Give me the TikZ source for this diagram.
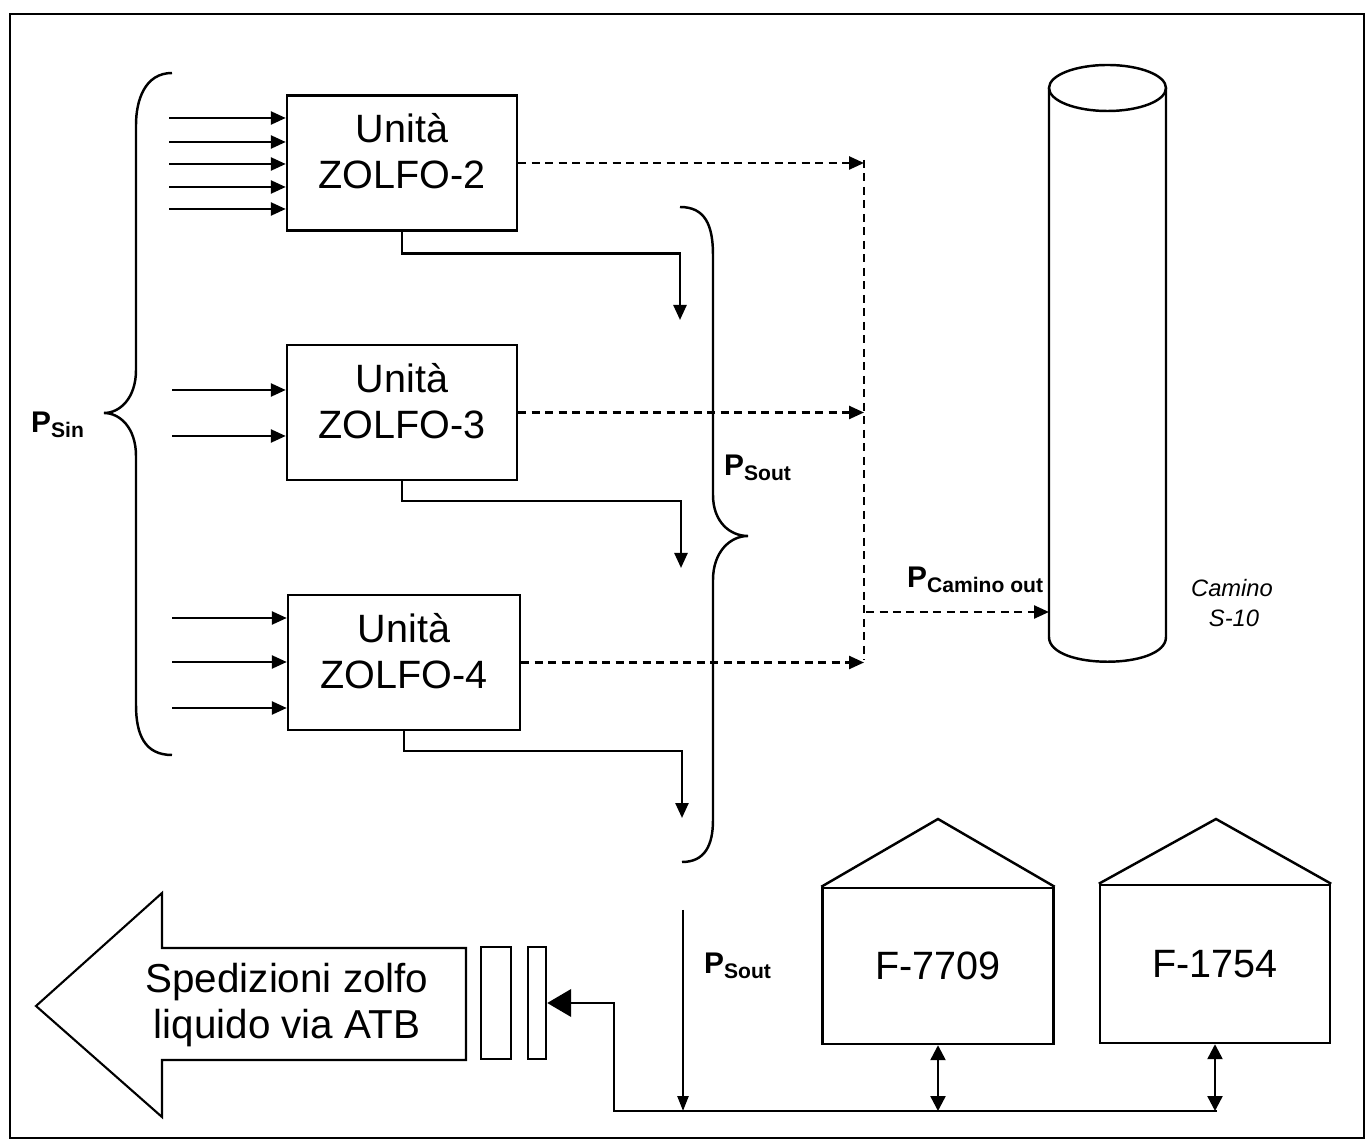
\documentclass[tikz,border=0pt]{standalone}
\usepackage{fontspec}
\setmainfont{Liberation Sans}
\usetikzlibrary{arrows.meta}
\newcommand{\plabel}[1]{{\fontsize{17}{17}\selectfont\bfseries P}\raisebox{-2.5pt}{\fontsize{12}{12}\selectfont\bfseries #1}}
\begin{document}
\begin{tikzpicture}[x=0.02cm,y=-0.02cm,line width=1.4pt,
  unitbox/.style={draw,minimum width=4.6cm,minimum height=2.7cm,inner sep=0pt},
  utext/.style={anchor=base,inner sep=0pt,font=\fontsize{22.5}{26}\selectfont},
  tankbox/.style={draw,minimum width=4.62cm,minimum height=3.12cm,
     font=\fontsize{22.5}{26}\selectfont,inner sep=0pt},
  slab/.style={draw,minimum height=2.24cm,inner sep=0pt},
  arr/.style={-{Triangle[length=0.3cm,width=0.26cm]}},
  darr/.style={dash pattern=on 0.16cm off 0.11cm,-{Triangle[length=0.3cm,width=0.26cm]}},
  dline/.style={dash pattern=on 0.16cm off 0.11cm},
  biarr/.style={{Triangle[length=0.3cm,width=0.3cm]}-{Triangle[length=0.3cm,width=0.3cm]}},
  bigarr/.style={-{Triangle[length=0.48cm,width=0.55cm]}},
  camtext/.style={anchor=base,inner sep=0pt,font=\fontsize{13.5}{16}\selectfont\itshape},
  lbl/.style={anchor=west,inner sep=0pt}]
\useasboundingbox (0,0) rectangle (1367,1141);
\draw (10,14) rectangle (1364,1138);

% units
\node[unitbox] (z2) at (402,163) {};
\node[utext] (z2a) at (402,143) {Unità};
\node[utext] (z2b) at (402,189) {ZOLFO-2};
\node[unitbox] (z3) at (402,412.5) {};
\node[utext] (z3a) at (402,393) {Unità};
\node[utext] (z3b) at (402,439) {ZOLFO-3};
\node[unitbox,minimum width=4.64cm] (z4) at (404,662.5) {};
\node[utext] (z4a) at (404,643) {Unità};
\node[utext] (z4b) at (404,689) {ZOLFO-4};

% input arrows
\foreach \y [count=\i] in {118,142,164,187,209} {
  \coordinate (a\i) at (169,\y);
  \draw[arr] (a\i) -- (a\i -| z2.west);
}
\foreach \y [count=\i] in {390,436} {
  \coordinate (b\i) at (172,\y);
  \draw[arr] (b\i) -- (b\i -| z3.west);
}
\foreach \y [count=\i] in {618,662,708} {
  \coordinate (c\i) at (172,\y);
  \draw[arr] (c\i) -- (c\i -| z4.west);
}

% left brace
\draw (172,73) .. controls (145,73) and (136,100) .. (136,125) -- (136,370)
  .. controls (136,398) and (120,413) .. (104,413)
  .. controls (120,413) and (136,428) .. (136,456) -- (136,705)
  .. controls (136,735) and (145,755) .. (172,755);
\node[lbl] (psin) at (30,425) {\plabel{Sin}};

% outputs to sulfur
\coordinate (o2) at (680,320);
\coordinate (o3) at (681,568);
\coordinate (o4) at (682,818);
\draw[arr] (z2.south) -- ++(0,22) -| (o2);
\draw[arr] (z3.south) -- ++(0,20) -| (o3);
\draw[arr] (z4.south) -- ++(0,20) -| (o4);

% right brace
\draw (680,207) .. controls (705,207) and (713,225) .. (713,255) -- (713,495)
  .. controls (713,522) and (730,536) .. (748,536)
  .. controls (730,536) and (713,552) .. (713,580) -- (713,820)
  .. controls (713,845) and (705,862) .. (682,862);
\node[lbl] (psout1) at (723,468) {\plabel{Sout}};

% dashed gas lines
\coordinate (d2) at (864,160);
\coordinate (d3) at (864,410);
\coordinate (d4) at (864,660);
\draw[darr] (z2.east) -- (z2.east -| d2);
\draw[darr] (z3.east) -- (z3.east -| d3);
\draw[darr] (z4.east) -- (z4.east -| d4);
\draw[dline] (d2) -- (d4);
\coordinate (dj) at (866,612);
\coordinate (cylin) at (1049,612);
\draw[darr] (dj) -- (cylin);
\node[lbl] (pcam) at (906,580) {\plabel{Camino out}};

% stack
\draw (1107.5,88) ellipse [x radius=58.5, y radius=23];
\draw (1049,88) -- (1049,637) .. controls (1049,670) and (1166,670) .. (1166,637) -- (1166,88);
\node[camtext] (cam1) at (1232,597) {Camino};
\node[camtext] (cam2) at (1234,627) {S-10};

% tanks
\node[tankbox] (t1) at (938,966) {F-7709};
\node[tankbox,minimum width=4.6cm,minimum height=3.16cm] (t2) at (1215,964) {F-1754};
\coordinate (r1top) at (938,819);
\coordinate (r2top) at (1216,819);
\draw (t1.north west) -- (r1top) -- (t1.north east);
\draw (t2.north west) -- (r2top) -- (t2.north east);

% shipping arrow and slabs
\node[slab,minimum width=0.6cm] (s1) at (496,1003) {};
\node[slab,minimum width=0.36cm] (s2) at (537,1003) {};
\draw[line width=1.2pt] (466,948) -- (162,948) -- (162,893) -- (36,1006) -- (162,1117) -- (162,1060) -- (466,1060) -- cycle;
\node[align=center,font=\fontsize{23}{26.6}\selectfont] (ship) at (287,1005) {Spedizioni zolfo\\liquido via ATB};

% bottom pipe
\coordinate (pL) at (614,1111);
\coordinate (pR) at (1217,1111);
\coordinate (psin2) at (683,910);
\draw[bigarr] (pR) -- (pL) |- (s2.east);
\draw[-{Triangle[length=0.3cm,width=0.22cm]}] (psin2) -- (psin2 |- pL);
\draw[biarr] (t1.south) -- (t1.south |- pL);
\draw[biarr] (t2.south) -- (t2.south |- pL);
\node[lbl] (psout2) at (703,966) {\plabel{Sout}};
\end{tikzpicture}
\end{document}
